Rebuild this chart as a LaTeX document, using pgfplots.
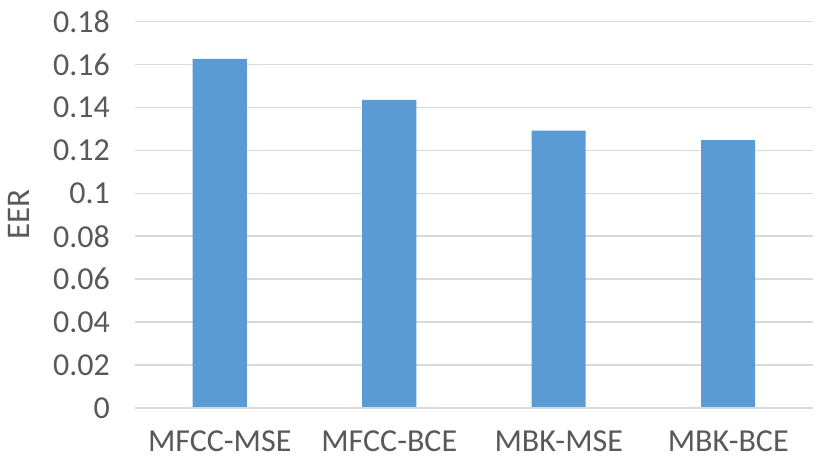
\documentclass[border=0pt]{standalone}
\usepackage{pgfplots}
\pgfplotsset{compat=1.18}
\usepackage{fontspec}
\setmainfont{Carlito}
\definecolor{barblue}{HTML}{5B9BD5}
\definecolor{gridgray}{HTML}{D9D9D9}
\definecolor{txt}{HTML}{595959}
\begin{document}
\begin{tikzpicture}
\useasboundingbox (0,0) rectangle (415pt,235.5pt);
\begin{axis}[
  at={(67.5pt,31.5pt)}, anchor=south west,
  scale only axis, width=339pt, height=193.25pt,
  xmin=-0.5, xmax=3.5, ymin=0, ymax=0.18,
  xtick={0,1,2,3},
  xticklabels={MFCC-MSE,MFCC-BCE,MBK-MSE,MBK-BCE},
  ytick={0,0.02,0.04,0.06,0.08,0.1,0.12,0.14,0.16,0.18},
  yticklabels={0,0.02,0.04,0.06,0.08,0.1,0.12,0.14,0.16,0.18},
  major tick length=0,
  axis line style={draw=none},
  ymajorgrids, grid style={gridgray, line width=0.75pt},
  tick label style={font=\fontsize{16}{19}\selectfont, text=txt},
  yticklabel style={xshift=-9pt},
  xticklabel style={yshift=-8pt},
  ylabel={EER},
  ylabel style={font=\fontsize{16.5}{19}\selectfont, text=txt, at={(axis description cs:-0.1715,0.5)}, anchor=center},
  clip=false,
]
\addplot[ybar, bar width=27pt, fill=barblue, draw=none] coordinates {(0,0.1626) (1,0.1435) (2,0.1292) (3,0.1247)};
\draw[gridgray, line width=0.75pt] (axis cs:-0.5,0) -- (axis cs:3.5,0);
\end{axis}
\end{tikzpicture}
\end{document}
